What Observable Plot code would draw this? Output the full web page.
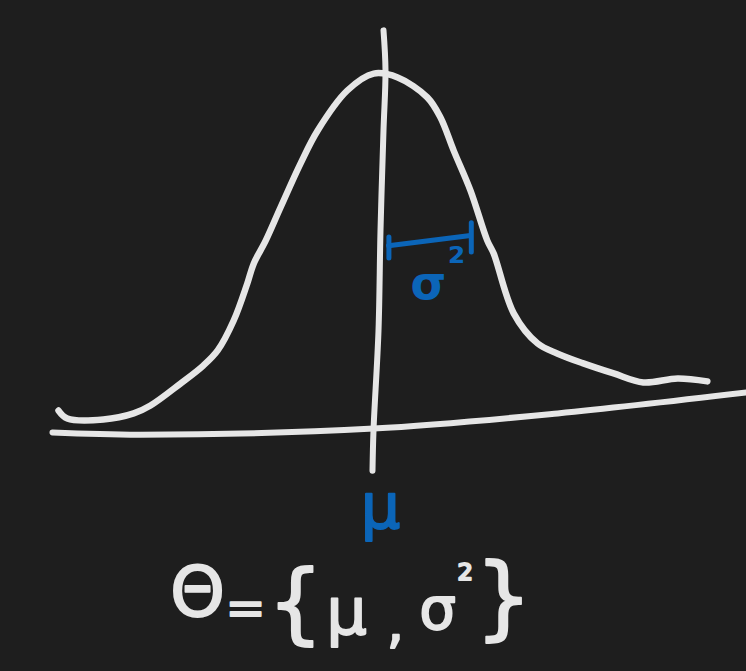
<!DOCTYPE html>
<html>
<head>
<meta charset="utf-8">
<script src="https://cdn.jsdelivr.net/npm/d3@7"></script>
<script src="https://cdn.jsdelivr.net/npm/@observablehq/plot@0.6"></script>
<style>
  html, body { margin: 0; padding: 0; background: #1e1e1e; }
  #chart { width: 746px; height: 671px; overflow: hidden; }
</style>
</head>
<body>
<div id="chart"></div>
<script>
// Sketch units: x in standard deviations from the mean, y as relative density (peak = 1)
const curveX = [-4.0, -3.89, -3.44, -3.06, -2.85, -2.475, -2.19, -2.01, -1.81, -1.64, -1.56, -1.41, -1.225, -0.975, -0.76, -0.39, -0.06, 0.24, 0.61, 0.775, 0.94, 1.15, 1.36, 1.44, 1.69, 1.99, 2.24, 2.56, 2.94, 3.31, 3.74, 4.11];
const curveY = [0.061, 0.039, 0.036, 0.053, 0.075, 0.136, 0.186, 0.228, 0.311, 0.414, 0.469, 0.533, 0.625, 0.747, 0.839, 0.95, 0.997, 0.986, 0.931, 0.875, 0.783, 0.672, 0.533, 0.497, 0.331, 0.247, 0.219, 0.192, 0.164, 0.139, 0.15, 0.142];

// hand-drawn baseline (x axis)
const baseX = [-4.075, -2.975, -0.06, 2.24, 4.6];
const baseY = [0, -0.006, 0.011, 0.053, 0.111];

// hand-drawn mean line
const meanX = [0.0625, 0.0875, 0.0625, 0.025, 0, -0.0625, -0.075];
const meanY = [1.117, 1.006, 0.839, 0.561, 0.283, 0.006, -0.106];

// spread bar (σ²)
const barX = [0.125, 1.15];
const barY = [0.519, 0.547];
const tickX = [0.13, 1.16];
const tickTop = [0.542, 0.581];
const tickBottom = [0.483, 0.5];

// labels
const meanLabel = "μ";
const sigmaLabel = ["σ", "²"];
const sigmaLabelX = [0.625, 0.975];
const sigmaLabelY = [0.411, 0.47];
const formulaGlyphs = ["Θ", "=", "{", "μ", ",", "σ", "²", "}"];
const formulaX = [-2.2625, -1.6625, -1.0375, -0.4, 0.2125, 0.7375, 1.085, 1.5625];
const formulaY = [-0.447, -0.49, -0.475, -0.503, -0.533, -0.494, -0.41, -0.462];

const curve = curveX.map((x, i) => ({x, y: curveY[i]}));
const base = baseX.map((x, i) => ({x, y: baseY[i]}));
const mean = meanX.map((x, i) => ({x, y: meanY[i]}));
const bar = barX.map((x, i) => ({x, y: barY[i]}));
const ticks = tickX.map((x, i) => ({x, y1: tickBottom[i], y2: tickTop[i]}));
const sig = sigmaLabel.map((t, i) => ({t, x: sigmaLabelX[i], y: sigmaLabelY[i]}));
const formula = formulaGlyphs.map((t, i) => ({t, x: formulaX[i], y: formulaY[i]}));

const WHITE = "#e6e6e6";
const BLUE = "#0b65b8";
const FONT = "DejaVu Sans";

const sizes = {"Θ": 70, "=": 48, "{": 88, "μ": 64, ",": 56, "σ": 58, "²": 40, "}": 90};

const chart = Plot.plot({
  width: 746,
  height: 671,
  margin: 0,
  x: {domain: [-4.725, 4.6], axis: null},
  y: {domain: [-0.66389, 1.2], axis: null},
  style: {background: "#1e1e1e"},
  marks: [
    Plot.line(base, {x: "x", y: "y", stroke: WHITE, strokeWidth: 6, curve: "catmull-rom", strokeLinecap: "round", strokeLinejoin: "round"}),
    Plot.line(mean, {x: "x", y: "y", stroke: WHITE, strokeWidth: 6, curve: "catmull-rom", strokeLinecap: "round"}),
    Plot.line(curve, {x: "x", y: "y", stroke: WHITE, strokeWidth: 6.5, curve: "catmull-rom", strokeLinecap: "round", strokeLinejoin: "round"}),
    Plot.line(bar, {x: "x", y: "y", stroke: BLUE, strokeWidth: 5, strokeLinecap: "round"}),
    Plot.ruleX(ticks, {x: "x", y1: "y1", y2: "y2", stroke: BLUE, strokeWidth: 5, strokeLinecap: "round"}),
    Plot.text([meanLabel], {x: [0.025], y: [-0.211], text: d => d, fill: BLUE, stroke: BLUE, strokeWidth: 2, fontSize: 62, fontFamily: FONT}),
    Plot.text(sig, {x: "x", y: "y", text: "t", fill: BLUE, fontSize: d => d.t === "²" ? 40 : 46, fontFamily: FONT, fontWeight: "bold"}),
    ...formula.map(d => Plot.text([d], {x: "x", y: "y", text: "t", fill: WHITE, stroke: WHITE, strokeWidth: 1.8, fontSize: sizes[d.t], fontFamily: FONT}))
  ]
});
document.getElementById("chart").appendChild(chart);
</script>
</body>
</html>
